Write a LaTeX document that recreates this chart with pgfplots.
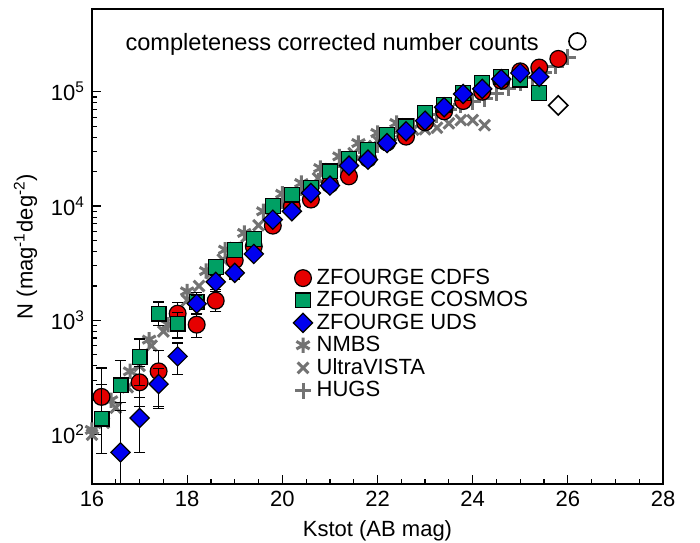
\documentclass[border=0pt]{standalone}
\usepackage{fontspec}
\setmainfont{Liberation Sans}
\usepackage{pgfplots}
\pgfplotsset{compat=1.18}
\definecolor{zred}{HTML}{E60000}
\definecolor{zgreen}{HTML}{00A064}
\definecolor{zblue}{HTML}{0000F0}
\definecolor{zgray}{HTML}{737373}
\pgfplotsset{zerr/.style={error bars/.cd, y dir=both, y explicit,
  error bar style={black, line width=0.6pt},
  error mark=|, error mark options={black, mark size=2.8pt, line width=0.6pt}}}
\begin{document}
\begin{tikzpicture}
\begin{axis}[
  scale only axis, width=285.5pt, height=237.5pt,
  xmin=16, xmax=28, ymode=log, ymin=37, ymax=5.3e5,
  xtick={16,18,20,22,24,26,28}, minor x tick num=3,
  xticklabels={16,18,20,22,24,26,28},
  ytick={100,1000,10000,100000},
  yticklabels={10\textsuperscript{2},10\textsuperscript{3},10\textsuperscript{4},10\textsuperscript{5}},
  xtick pos=bottom, ytick pos=left,
  tick align=inside, major tick length=4.5pt, minor tick length=2.5pt,
  every tick/.style={black, line width=0.6pt},
  axis line style={line width=0.8pt},
  tick label style={font=\fontsize{11}{13}\selectfont},
  label style={font=\fontsize{11}{13}\selectfont},
  xlabel={Kstot (AB mag)},
  ylabel={N (mag\textsuperscript{-1}deg\textsuperscript{-2})},
  clip mode=individual,
  legend style={at={(0.352,0.462)}, anchor=north west, draw=none, fill=none,
    font=\fontsize{11}{13}\selectfont, row sep=-2pt, inner sep=0pt},
  legend cell align=left,
]
\path (rel axis cs:0,0) coordinate (A) (rel axis cs:1,1) coordinate (B);
% NMBS
\addplot[only marks, mark=asterisk, mark size=3.8pt, zgray, line width=1.5pt, forget plot] coordinates {
(16.0,110) (16.4,200) (16.8,358) (17.2,678) (17.6,917) (18.0,1794) (18.4,2700) (18.8,4154)
(19.2,5820) (19.6,9000) (20.0,12800) (20.4,15900) (20.8,21500) (21.2,27200) (21.6,35600)
(22.0,43600) (22.4,53300)};
% UltraVISTA
\addplot[only marks, mark=x, mark size=3.8pt, zgray, line width=1.5pt, forget plot] coordinates {
(16.0,100) (16.25,127) (16.5,172) (16.75,260) (17.0,400) (17.25,600) (17.5,800) (17.75,1100)
(18.0,1500) (18.25,2000) (18.5,2600) (18.75,3400) (19.0,4300) (19.25,5400) (19.5,6800)
(19.75,8400) (20.0,10300) (20.25,12300) (20.5,14500) (20.75,17500) (21.0,21000) (21.25,25000)
(21.5,29000) (21.75,33500) (22.0,37500) (22.25,41000) (22.5,44500) (22.75,46600) (23.0,47000)
(23.25,48500) (23.5,53000) (23.75,56500) (24.0,56500) (24.25,51000)};
% HUGS
\addplot[only marks, mark=+, mark size=4pt, zgray, line width=1.5pt, forget plot] coordinates {
(20.0,11000) (20.25,12500) (20.5,14000) (20.75,16500) (21.0,19000) (21.25,22000) (21.5,25500)
(21.75,29500) (22.0,34000) (22.25,38500) (22.5,44000) (22.75,50000) (23.0,56000) (23.25,63000)
(23.5,70000) (23.75,77000) (24.0,82000) (24.25,87000) (24.5,97000) (24.75,107000) (25.0,120000)
(25.25,132000) (25.5,148000) (25.75,167000) (26.0,200000)};
% ZFOURGE CDFS
\addplot[only marks, mark=*, mark size=4.2pt, mark options={fill=zred, draw=black, line width=0.6pt}, forget plot, zerr] coordinates {
(16.2,214) +=(0,169) -=(0,146)
(17.0,287) +=(0,110) -=(0,110)
(17.4,358) +=(0,188) -=(0,188)
(17.8,1145) +=(0,292) -=(0,292)
(18.2,917) +=(0,207) -=(0,207)
(18.6,1487) +=(0,288) -=(0,288)
(19.0,3350) +=(0,350) -=(0,350)
(19.4,4440) +=(0,400) -=(0,400)
(19.8,6740) (20.2,9940) (20.6,11400) (21.0,15500) (21.4,18200) (21.8,26000) (22.2,36000)
(22.6,40500) (23.0,54000) (23.4,67400) (23.8,83000) (24.2,100000) (24.6,125000) (25.0,151000)
(25.4,163000) (25.8,194000)};
% ZFOURGE COSMOS
\addplot[only marks, mark=square*, mark size=3.7pt, mark options={fill=zgreen, draw=black, line width=0.6pt}, forget plot, zerr] coordinates {
(16.2,138) +=(0,136) -=(0,70)
(16.6,270) +=(0,177) -=(0,107)
(17.0,478) +=(0,209) -=(0,209)
(17.4,1145) +=(0,300) -=(0,250)
(17.8,936) +=(0,234) -=(0,234)
(18.2,1450) +=(0,300) -=(0,300)
(18.6,2930) +=(0,400) -=(0,400)
(19.0,4150) +=(0,450) -=(0,450)
(19.4,5150) (19.8,10070) (20.2,12600) (20.6,14400) (21.0,20100) (21.4,25800) (21.8,31100)
(22.2,42100) (22.6,49800) (23.0,65300) (23.4,77100) (23.8,97600) (24.2,119000) (24.6,136000)
(25.0,128000) (25.4,97600)};
% ZFOURGE UDS
\addplot[only marks, mark=square*, mark size=3.4pt, mark options={rotate=45, fill=zblue, draw=black, line width=0.6pt}, forget plot, zerr] coordinates {
(16.6,70) +=(0,120) -=(0,32.9)
(17.0,140) +=(0,70) -=(0,70)
(17.4,277) +=(0,100) -=(0,100)
(17.8,484) +=(0,149) -=(0,149)
(18.2,1400) +=(0,250) -=(0,250)
(18.6,2170) +=(0,300) -=(0,300)
(19.0,2600) +=(0,300) -=(0,300)
(19.4,3810) (19.8,7600) (20.2,9000) (20.6,13000) (21.0,15100) (21.4,22600) (21.8,25500)
(22.2,35600) (22.6,45100) (23.0,55900) (23.4,73100) (23.8,95700) (24.2,106000) (24.6,129000)
(25.0,146000) (25.4,135000)};
% open symbols
\addplot[only marks, mark=o, mark size=4.2pt, mark options={draw=black, line width=0.8pt}, forget plot] coordinates {(26.2,276000)};
\addplot[only marks, mark=square, mark size=3.4pt, mark options={rotate=45, draw=black, line width=0.8pt}, forget plot] coordinates {(25.8,76000)};
% legend
\addlegendimage{only marks, mark=*, mark size=4.2pt, mark options={fill=zred, draw=black, line width=0.6pt}}
\addlegendentry{ZFOURGE CDFS}
\addlegendimage{only marks, mark=square*, mark size=3.7pt, mark options={fill=zgreen, draw=black, line width=0.6pt}}
\addlegendentry{ZFOURGE COSMOS}
\addlegendimage{only marks, mark=square*, mark size=3.4pt, mark options={rotate=45, fill=zblue, draw=black, line width=0.6pt}}
\addlegendentry{ZFOURGE UDS}
\addlegendimage{only marks, mark=asterisk, mark size=3.8pt, zgray, line width=1.5pt}
\addlegendentry{NMBS}
\addlegendimage{only marks, mark=x, mark size=3.8pt, zgray, line width=1.5pt}
\addlegendentry{UltraVISTA}
\addlegendimage{only marks, mark=+, mark size=4pt, zgray, line width=1.5pt}
\addlegendentry{HUGS}
\node[anchor=west, font=\fontsize{11.8}{13}\selectfont, inner sep=0pt] at (rel axis cs:0.058,0.926) {completeness corrected number counts};
\end{axis}
\pgfresetboundingbox
\path[use as bounding box] ([shift={(-46pt,-29pt)}]A) rectangle ([shift={(18.5pt,4.5pt)}]B);
\end{tikzpicture}
\end{document}
